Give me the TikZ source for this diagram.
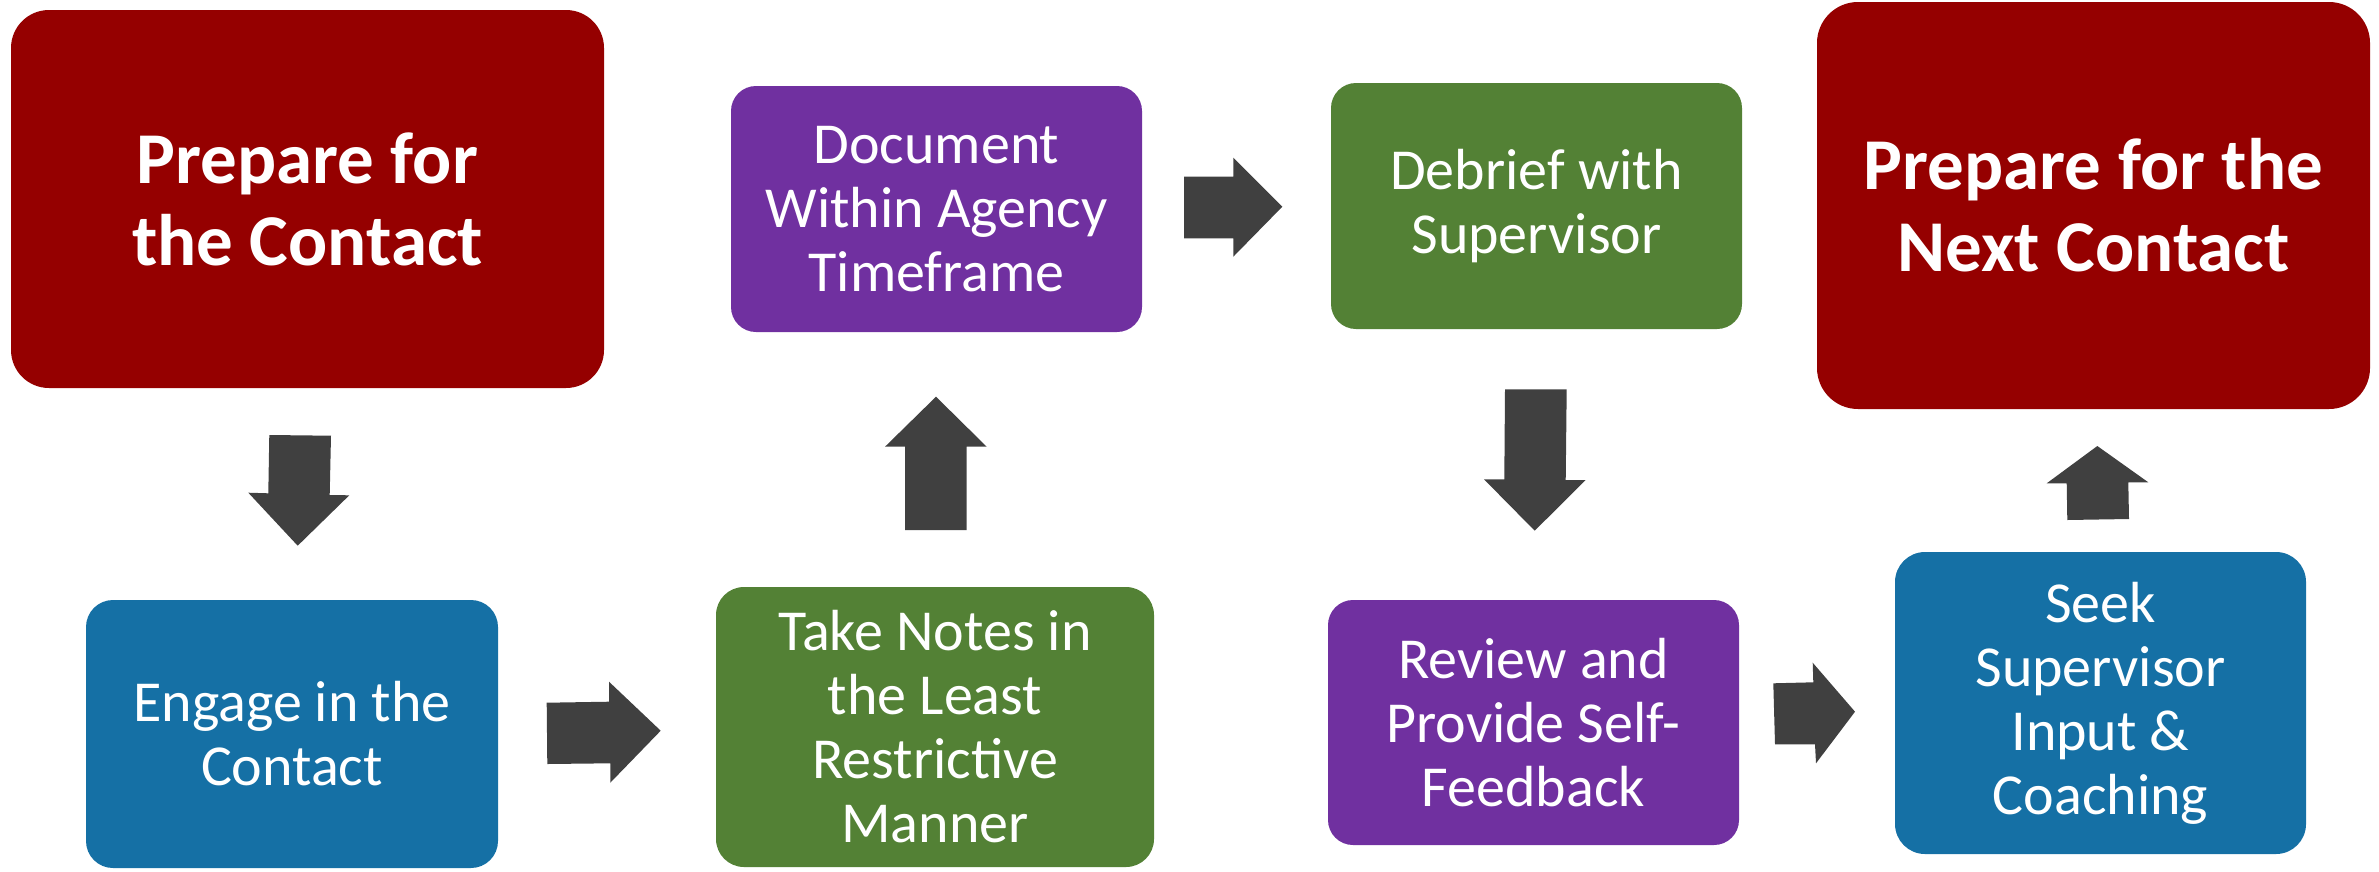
\documentclass[tikz,border=0pt]{standalone}
\usepackage{fontspec}
\setmainfont{Carlito}
\definecolor{boxred}{HTML}{950000}
\definecolor{boxblue}{HTML}{1570A5}
\definecolor{boxgreen}{HTML}{538135}
\definecolor{boxpurple}{HTML}{7030A0}
\definecolor{arrowgray}{HTML}{404040}
\tikzset{
  stepbox/.style={rectangle, inner sep=0pt, text=white, align=center,
    font=\fontsize{58}{64}\selectfont},
  titlebox/.style={stepbox, font=\fontsize{73}{82}\selectfont\bfseries},
  blockarrow/.style={fill=arrowgray, draw=none}
}
\begin{document}
\begin{tikzpicture}[x=1pt,y=-1pt]
\useasboundingbox (0,0) rectangle (2379,871);
% boxes
\node[titlebox, fill=boxred, rounded corners=38pt, minimum width=593pt, minimum height=378pt] (prep) at (307.5,199) {Prepare for\\the Contact};
\node[stepbox, fill=boxblue, rounded corners=27pt, minimum width=412pt, minimum height=268pt] (engage) at (292,734) {Engage in the\\Contact};
\node[stepbox, fill=boxgreen, rounded corners=28pt, minimum width=438pt, minimum height=280pt] (notes) at (935,727) {Take Notes in\\the Least\\Restrictive\\Manner};
\node[stepbox, fill=boxpurple, rounded corners=25pt, minimum width=411pt, minimum height=246pt] (doc) at (936.5,209) {Document\\Within Agency\\Timeframe};
\node[stepbox, fill=boxgreen, rounded corners=25pt, minimum width=411pt, minimum height=246pt] (debrief) at (1536.5,206) {Debrief with\\Supervisor};
\node[stepbox, fill=boxpurple, rounded corners=25pt, minimum width=411pt, minimum height=245pt] (review) at (1533.5,722.5) {Review and\\Provide Self-\\Feedback};
\node[stepbox, fill=boxblue, rounded corners=30pt, minimum width=411pt, minimum height=302pt] (seek) at (2100.5,703) {Seek\\Supervisor\\Input \&\\Coaching};
\node[titlebox, fill=boxred, rounded corners=41pt, minimum width=553pt, minimum height=407pt] (next) at (2093.5,205.5) {Prepare for the\\Next Contact};
% block arrows
\fill[blockarrow] (269.3,435) -- (331,435.7) -- (329.7,495) -- (349.3,495.3) -- (297.7,545.7) -- (248.3,492.7) -- (268.3,493.3) -- cycle;
\fill[blockarrow] (546.7,702.7) -- (609,701.7) -- (609,681.7) -- (660.7,730.7) -- (610.3,782.7) -- (610.3,763.3) -- (547.3,764) -- cycle;
\fill[blockarrow] (905,530) -- (905,446.7) -- (885,446.7) -- (936,396.7) -- (986.7,446.7) -- (966.7,446.7) -- (966.7,530) -- cycle;
\fill[blockarrow] (1184,176.7) -- (1233.3,176.7) -- (1233.3,157.7) -- (1282.3,206.7) -- (1233.3,256.7) -- (1233.3,238.3) -- (1184,238.3) -- cycle;
\fill[blockarrow] (1505,389.3) -- (1566.7,389.3) -- (1565.7,480) -- (1585.7,480) -- (1534.7,530.7) -- (1484,479.3) -- (1504.3,479.3) -- cycle;
\fill[blockarrow] (1773.3,683.3) -- (1813.3,682.3) -- (1812.7,662.7) -- (1855,711.7) -- (1816,763.3) -- (1815,744.3) -- (1775,744.3) -- cycle;
\fill[blockarrow] (2067.3,520) -- (2066.7,483.3) -- (2046.7,483.3) -- (2097.3,446) -- (2148.3,482.3) -- (2128.3,482.3) -- (2129,519) -- cycle;
\end{tikzpicture}
\end{document}
